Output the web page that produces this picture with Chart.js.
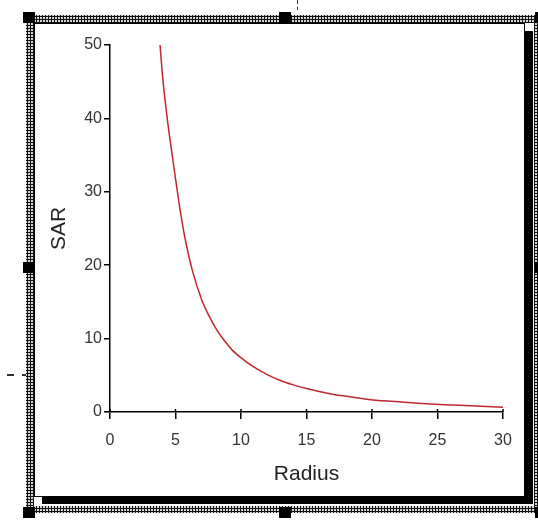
<!DOCTYPE html>
<html><head><meta charset="utf-8">
<script src="https://cdn.jsdelivr.net/npm/chart.js@4"></script>
<style>
html,body{margin:0;padding:0;background:#fff;width:538px;height:523px;overflow:hidden;position:relative}
.hatch{position:absolute;left:26px;top:15px;width:520px;height:498px;background:radial-gradient(circle at 1.5px 1.5px,#111 1px,#fff 1.5px) 0 0/3px 3px}
.clear{position:absolute;left:34px;top:23px;width:500px;height:483px;background:#fff}
.shadow{position:absolute;left:42px;top:31px;width:491px;height:473px;background:#000}
.panel{position:absolute;left:34px;top:23px;width:489px;height:472px;background:#fff;border:1px solid #000}
.h{position:absolute;width:12px;height:11px;background:#000}
.d{position:absolute;background:#333}
canvas{position:absolute;left:0;top:0}
</style></head>
<body>
<div class="hatch"></div>
<div class="clear"></div>
<div class="shadow"></div>
<div class="panel"></div>
<div class="h" style="left:23px;top:12px"></div>
<div class="h" style="left:279px;top:12px"></div>
<div class="h" style="left:535px;top:12px"></div>
<div class="h" style="left:23px;top:262px"></div>
<div class="h" style="left:535px;top:262px"></div>
<div class="h" style="left:23px;top:507px"></div>
<div class="h" style="left:279px;top:507px"></div>
<div class="h" style="left:535px;top:507px"></div>
<div class="d" style="left:7px;top:374px;width:7px;height:2px"></div>
<div class="d" style="left:22px;top:374px;width:4px;height:2px"></div>
<div class="d" style="left:297px;top:0px;width:1px;height:4px"></div>
<div class="d" style="left:297px;top:7px;width:1px;height:3px"></div>
<canvas id="c" width="538" height="523"></canvas>
<script>
const radius = [3.82, 4.0, 4.3, 4.7, 5.0, 5.4, 5.8, 6.3, 7.0, 7.5, 8.15, 8.7, 9.3, 10.06, 11.0, 12.0, 13.0, 14.0, 15.0, 16.5, 17.8, 19.6, 21.5, 23.5, 25.5, 27.5, 30.0];
const sar    = [50.0, 46.0, 41.0, 35.6, 31.8, 27.0, 23.0, 19.2, 15.3, 13.3, 11.2, 9.8, 8.5, 7.3, 6.1, 5.1, 4.3, 3.7, 3.2, 2.6, 2.2, 1.75, 1.45, 1.2, 1.0, 0.85, 0.65];
const xTitle = 'Radius';
const yTitle = 'SAR';
const xRange = [0, 30, 5];
const yRange = [0, 50, 10];

const FONT = 'Liberation Sans, Arial, sans-serif';

const tickCross = {
  id: 'tickCross',
  afterDraw(chart) {
    const s = chart.scales.x, ctx = chart.ctx;
    ctx.save();
    ctx.strokeStyle = '#000';
    ctx.lineWidth = 1.5;
    s.ticks.forEach(t => {
      const px = s.getPixelForValue(t.value);
      ctx.beginPath();
      ctx.moveTo(px, s.top - 3);
      ctx.lineTo(px, s.top);
      ctx.stroke();
    });
    ctx.restore();
  }
};

new Chart(document.getElementById('c'), {
  type: 'scatter',
  data: {
    datasets: [{
      data: radius.map((r, i) => ({x: r, y: sar[i]})),
      showLine: true,
      borderColor: '#c0282d',
      borderWidth: 1.5,
      pointRadius: 0,
      cubicInterpolationMode: 'monotone',
      fill: false
    }]
  },
  options: {
    responsive: false,
    animation: false,
    devicePixelRatio: 1,
    layout: {padding: {left: 40, top: 45, right: 35, bottom: 33}},
    plugins: {legend: {display: false}, tooltip: {enabled: false}},
    scales: {
      x: {
        type: 'linear', min: xRange[0], max: xRange[1],
        ticks: {stepSize: xRange[2], color: '#333', font: {family: FONT, size: 16}, padding: 12, maxRotation: 0},
        grid: {drawOnChartArea: false, color: '#000', tickLength: 7, lineWidth: 1.5},
        border: {color: '#000', width: 1.5},
        title: {display: true, text: xTitle, color: '#222', font: {family: FONT, size: 21}, padding: {top: 0, bottom: 3.4}},
        afterFit(s) { s.height = 78; }
      },
      y: {
        type: 'linear', min: yRange[0], max: yRange[1],
        ticks: {stepSize: yRange[2], color: '#333', font: {family: FONT, size: 16}, padding: 2},
        grid: {drawOnChartArea: false, color: '#000', tickLength: 6, lineWidth: 1.5},
        border: {color: '#000', width: 1.5},
        title: {display: true, text: yTitle, color: '#222', font: {family: FONT, size: 21}, padding: {top: 7, bottom: 0}},
        afterFit(s) { s.width = 70; }
      }
    }
  },
  plugins: [tickCross]
});
</script>
</body></html>
